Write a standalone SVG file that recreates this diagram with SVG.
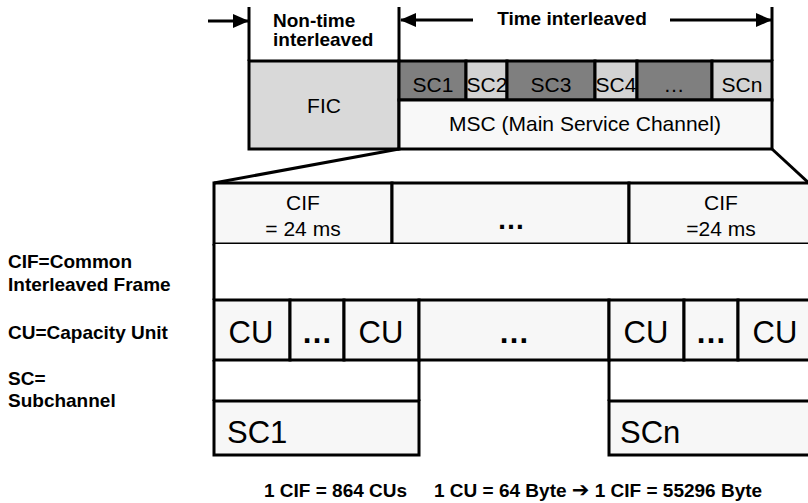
<svg xmlns="http://www.w3.org/2000/svg" width="808" height="503" viewBox="0 0 808 503">
<defs>
<marker id="ah" markerUnits="userSpaceOnUse" markerWidth="16" markerHeight="14" refX="15" refY="7" orient="auto">
<path d="M0,0 L16,7 L0,14 Z" fill="#000"/>
</marker>
<style>
.ln{stroke:#000;stroke-width:3;fill:none}
.bx{stroke:#000;stroke-width:3}
.lt{fill:#f7f7f7}
.wh{fill:#fff}
.dk{fill:#7f7f7f}
.lg{fill:#d3d3d3}
.fic{fill:#d9d9d9}
.t{font-family:"Liberation Sans",Arial,sans-serif;font-size:21px;fill:#000}
.c{text-anchor:middle}
.b{font-family:"Liberation Sans",Arial,sans-serif;font-weight:bold;font-size:19px;fill:#000}
.big{font-family:"Liberation Sans",Arial,sans-serif;font-size:31px;fill:#000}
</style>
</defs>
<rect width="808" height="503" fill="#fff"/>

<g id="labels-top">
<text class="b" x="273" y="27">Non-time</text>
<text class="b" x="273" y="46">interleaved</text>
<text class="b c" x="572" y="25">Time interleaved</text>
</g>

<g id="fic">
<rect class="bx fic" x="249" y="61" width="150" height="88"/>
<text class="t c" x="324" y="113">FIC</text>
</g>

<g id="sc-row">
<rect class="bx dk" x="399" y="61" width="67" height="39"/>
<rect class="bx lg" x="466" y="61" width="41" height="39"/>
<rect class="bx dk" x="507" y="61" width="88" height="39"/>
<rect class="bx lg" x="595" y="61" width="42" height="39"/>
<rect class="bx dk" x="637" y="61" width="75" height="39"/>
<rect class="bx lg" x="712" y="61" width="60" height="39"/>
<text class="t c" x="433" y="92">SC1</text>
<text class="t c" x="487" y="92">SC2</text>
<text class="t c" x="551" y="92">SC3</text>
<text class="t c" x="616" y="92">SC4</text>
<text class="t c" x="674" y="92">…</text>
<text class="t c" x="742" y="92">SCn</text>
</g>

<g id="msc">
<rect class="bx" fill="#f8f8f8" x="399" y="100" width="373" height="49"/>
<text class="t c" x="585" y="131">MSC (Main Service Channel)</text>
</g>

<g id="cif-row">
<rect class="bx lt" x="214" y="183" width="178" height="61"/>
<rect class="bx lt" x="392" y="183" width="237" height="61"/>
<rect class="bx lt" x="629" y="183" width="184" height="61"/>
<text class="t c" x="303" y="210">CIF</text>
<text class="t c" x="303" y="236">= 24 ms</text>
<text class="c" x="511" y="229" font-family="Liberation Sans, Arial, sans-serif" font-weight="bold" font-size="28">…</text>
<text class="t c" x="721" y="210">CIF</text>
<text class="t c" x="721" y="236">=24 ms</text>
</g>

<g id="white-row">
<rect class="wh" x="214" y="244" width="600" height="56"/>
<line class="ln" x1="214" y1="244" x2="214" y2="300"/>
</g>

<g id="cu-row">
<rect class="bx lt" x="214" y="300" width="76" height="60"/>
<rect class="bx lt" x="290" y="300" width="54" height="60"/>
<rect class="bx lt" x="344" y="300" width="75" height="60"/>
<rect class="bx lt" x="419" y="300" width="190" height="60"/>
<rect class="bx lt" x="609" y="300" width="75" height="60"/>
<rect class="bx lt" x="684" y="300" width="54" height="60"/>
<rect class="bx lt" x="738" y="300" width="75" height="60"/>
<text class="big c" x="251" y="343">CU</text>
<text class="big c" x="317" y="343" font-weight="bold">…</text>
<text class="big c" x="381" y="343">CU</text>
<text class="big c" x="514" y="343" font-weight="bold">…</text>
<text class="big c" x="646" y="343">CU</text>
<text class="big c" x="711" y="343" font-weight="bold">…</text>
<text class="big c" x="775" y="343">CU</text>
</g>

<g id="sc1">
<line class="ln" x1="214" y1="360" x2="214" y2="401"/>
<line class="ln" x1="419" y1="360" x2="419" y2="401"/>
<rect class="bx lt" x="214" y="401" width="205" height="54"/>
<text class="big" x="227" y="443">SC1</text>
</g>

<g id="scn">
<line class="ln" x1="609" y1="360" x2="609" y2="401"/>
<rect class="bx lt" x="609" y="401" width="205" height="54"/>
<text class="big" x="620" y="443">SCn</text>
</g>

<g id="legend">
<text class="b" x="8" y="268">CIF=Common</text>
<text class="b" x="8" y="291">Interleaved Frame</text>
<text class="b" x="8" y="339">CU=Capacity Unit</text>
<text class="b" x="8" y="385">SC=</text>
<text class="b" x="8" y="407">Subchannel</text>
</g>

<g id="footer">
<text class="b" x="264" y="497">1 CIF = 864 CUs<tspan x="434">1 CU = 64 Byte </tspan><tspan font-family="DejaVu Sans, sans-serif" font-size="21">➔</tspan><tspan> 1 CIF = 55296 Byte</tspan></text>
</g>

<g id="connectors">
<line class="ln" x1="249" y1="7" x2="249" y2="61"/>
<line class="ln" x1="399" y1="7" x2="399" y2="61"/>
<line class="ln" x1="772" y1="7" x2="772" y2="61"/>
<line class="ln" x1="208" y1="21" x2="248" y2="21" marker-end="url(#ah)"/>
<line class="ln" x1="473" y1="20" x2="401" y2="20" marker-end="url(#ah)"/>
<line class="ln" x1="670" y1="20" x2="771" y2="20" marker-end="url(#ah)"/>
<line class="ln" x1="399" y1="149" x2="214" y2="183"/>
<line class="ln" x1="772" y1="149" x2="812" y2="186"/>
</g>
</svg>
